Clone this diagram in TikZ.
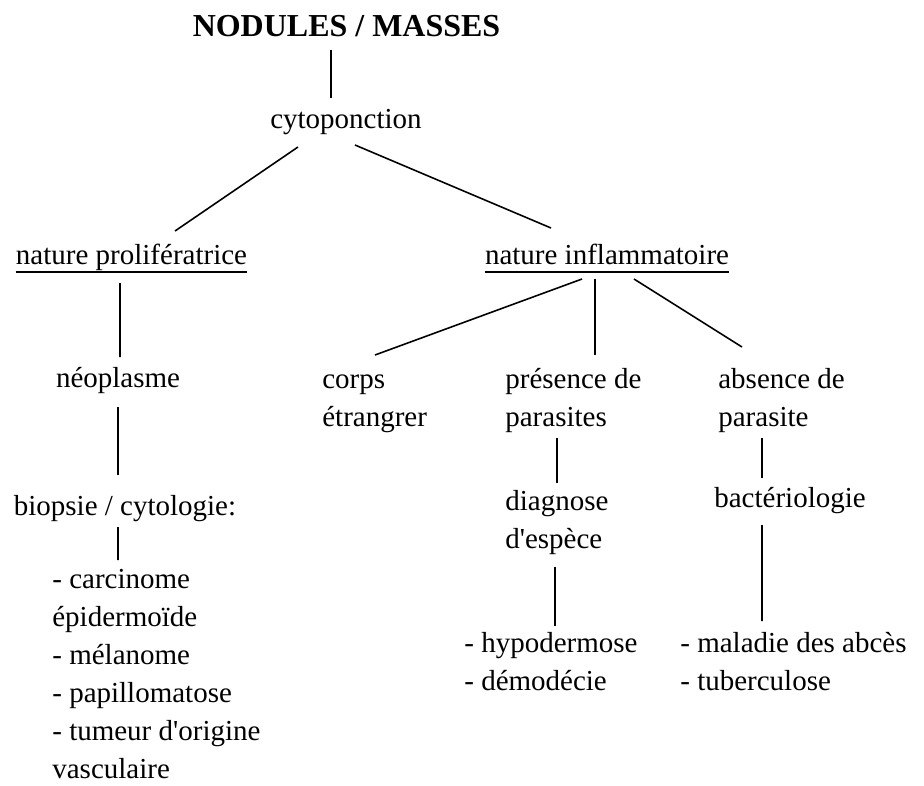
\documentclass[tikz,border=0pt]{standalone}
\usepackage{fontspec}
\setmainfont{Liberation Serif}
\usepackage{tikz}
\usetikzlibrary{positioning}

\begin{document}
\begin{tikzpicture}[
    lbl/.style   ={inner sep=0pt, font=\fontsize{16.5}{21.6}\selectfont},
    head/.style  ={inner sep=0pt, font=\fontsize{18.2}{22}\selectfont\bfseries},
    lst/.style   ={lbl, align=left, anchor=base west},
    link/.style  ={line width=0.9pt, line cap=butt},
    uline/.style ={line width=0.8pt},
  ]
  \useasboundingbox (0mm,0mm) rectangle (184.8mm,-157mm);
  \node[head, anchor=base] (title) at (69.3mm,-7.2mm) {NODULES / MASSES};
  \node[lbl, anchor=base] (cyto) at (69.2mm,-25.6mm) {cytoponction};
  \draw[link] ([xshift=-3.1mm,yshift=-2.8mm]title.base) -- ([xshift=-3mm,yshift=6mm]cyto.base);
  \node[lbl, anchor=base] (prolif) at (26.3mm,-52.8mm) {nature prolifératrice};
  \node[lbl, anchor=base] (inflam) at (121.4mm,-52.8mm) {nature inflammatoire};
  \draw[uline] ([yshift=-1.6mm]prolif.base west) -- ([yshift=-1.6mm]prolif.base east);
  \draw[uline] ([yshift=-1.6mm]inflam.base west) -- ([yshift=-1.6mm]inflam.base east);
  \draw[link] ([xshift=-9.6mm,yshift=-3.8mm]cyto.base) -- ([xshift=8.7mm,yshift=6.6mm]prolif.base);
  \draw[link] ([xshift=1.8mm,yshift=-3.4mm]cyto.base) -- ([xshift=-11.2mm,yshift=7.2mm]inflam.base);
  \node[lbl, anchor=base] (neo) at (23.6mm,-77.4mm) {néoplasme};
  \draw[link] ([xshift=-2.3mm,yshift=-3.8mm]prolif.base) -- ([xshift=0.4mm,yshift=6mm]neo.base);
  \node[lbl, anchor=base] (biopsy) at (25mm,-103mm) {biopsie / cytologie:};
  \draw[link] ([yshift=-4mm]neo.base) -- ([xshift=-1.4mm,yshift=8mm]biopsy.base);
  \node[lst] (tumours) at (10.4mm,-155.6mm) {- carcinome\\épidermoïde\\- mélanome\\- papillomatose\\- tumeur d\textquotesingle origine\\vasculaire};
  \draw[link] ([xshift=-1.4mm,yshift=-2.4mm]biopsy.base) -- ([xshift=13.2mm,yshift=43.6mm]tumours.base west);
  \node[lst] (corps) at (64.4mm,-85.2mm) {corps\\étrangrer};
  \node[lst] (present) at (101mm,-85.2mm) {présence de\\parasites};
  \node[lst] (absent) at (143.6mm,-85.2mm) {absence de\\parasite};
  \draw[link] ([xshift=-5mm,yshift=-3mm]inflam.base) -- ([xshift=10.6mm,yshift=14.2mm]corps.base west);
  \draw[link] ([xshift=-2.4mm,yshift=-3mm]inflam.base) -- ([xshift=18mm,yshift=14.2mm]present.base west);
  \draw[link] ([xshift=5.4mm,yshift=-3mm]inflam.base) -- ([xshift=4.8mm,yshift=15.8mm]absent.base west);
  \node[lst] (diag) at (101mm,-109.6mm) {diagnose\\d\textquotesingle espèce};
  \draw[link] ([xshift=10.4mm,yshift=-2.4mm]present.base west) -- ([xshift=10.4mm,yshift=13mm]diag.base west);
  \node[lst] (parasites) at (92.8mm,-138mm) {- hypodermose\\- démodécie};
  \draw[link] ([xshift=10mm,yshift=-3.8mm]diag.base west) -- ([xshift=18.2mm,yshift=12.8mm]parasites.base west);
  \node[lst] (bact) at (142.8mm,-101.4mm) {bactériologie};
  \draw[link] ([xshift=8.8mm,yshift=-2.4mm]absent.base west) -- ([xshift=9.6mm,yshift=5.8mm]bact.base west);
  \node[lst] (bacteria) at (136mm,-138mm) {- maladie des abcès\\- tuberculose};
  \draw[link] ([xshift=9.6mm,yshift=-3.6mm]bact.base west) -- ([xshift=16.4mm,yshift=13.8mm]bacteria.base west);
\end{tikzpicture}
\end{document}
